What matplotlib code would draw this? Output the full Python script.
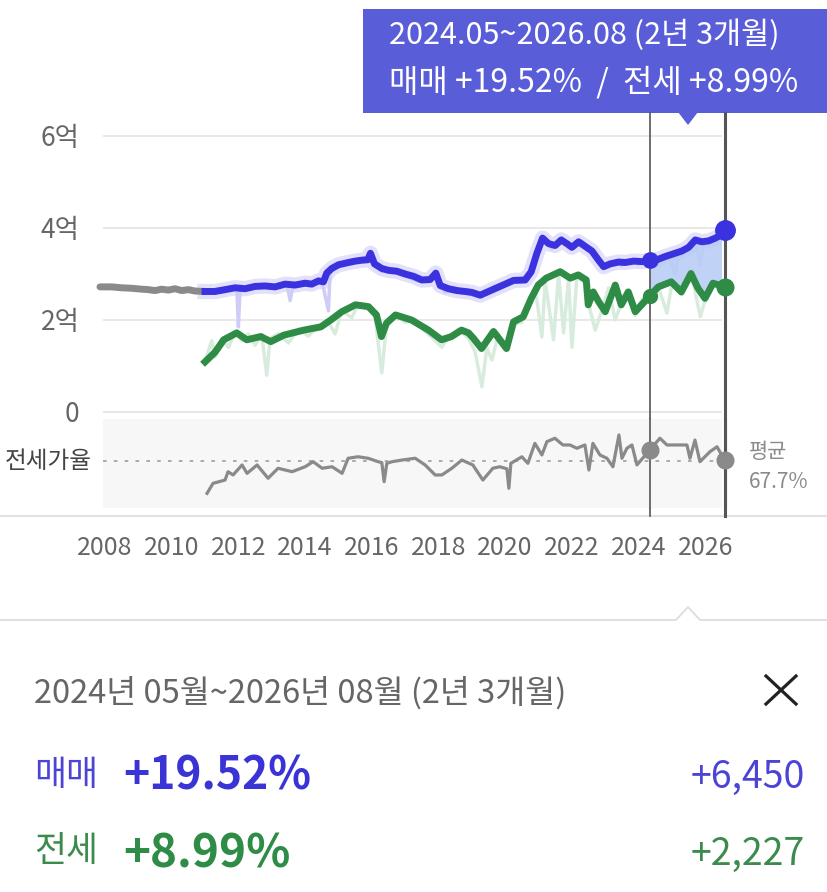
import numpy as np
import matplotlib.pyplot as plt
from matplotlib.lines import Line2D
from matplotlib.patches import Rectangle, Polygon

plt.rcParams['font.family'] = ['Noto Sans CJK KR', 'DejaVu Sans']

# -- data (prices in 억 원, dates as decimal years) --
pre_x = [2007.85, 2008.2, 2008.5, 2008.8, 2009.1, 2009.3, 2009.5, 2009.7, 2009.9,
         2010.1, 2010.3, 2010.5, 2010.7, 2011.0]
pre_y = [2.72, 2.72, 2.70, 2.69, 2.67, 2.66, 2.64, 2.67, 2.65, 2.68, 2.64, 2.66, 2.63, 2.62]

sale_x = [2011.0, 2011.3, 2011.6, 2011.9, 2012.2, 2012.5, 2012.8, 2013.1, 2013.4, 2013.7,
          2014.0, 2014.2, 2014.4, 2014.55, 2014.65, 2014.8, 2015.0, 2015.3, 2015.5, 2015.7,
          2015.88, 2015.96, 2016.08, 2016.3, 2016.5, 2016.75, 2017.0, 2017.25, 2017.5, 2017.75,
          2017.92, 2018.05, 2018.3, 2018.55, 2018.8, 2019.0, 2019.25, 2019.5, 2019.75, 2020.0,
          2020.25, 2020.6, 2020.78, 2020.95, 2021.12, 2021.3, 2021.5, 2021.68, 2021.85, 2022.0,
          2022.2, 2022.4, 2022.6, 2022.8, 2022.95, 2023.15, 2023.4, 2023.6, 2023.85, 2024.1,
          2024.33, 2024.55, 2024.8, 2025.05, 2025.3, 2025.5, 2025.7, 2025.9, 2026.1, 2026.3,
          2026.45, 2026.58]
sale_y = [2.62, 2.62, 2.66, 2.70, 2.68, 2.73, 2.74, 2.72, 2.78, 2.76,
          2.80, 2.78, 2.85, 2.83, 3.02, 3.12, 3.20, 3.25, 3.28, 3.30,
          3.31, 3.45, 3.22, 3.12, 3.08, 3.06, 3.00, 2.95, 2.87, 2.88,
          3.02, 2.75, 2.68, 2.64, 2.62, 2.60, 2.54, 2.62, 2.70, 2.78,
          2.86, 2.87, 3.05, 3.45, 3.78, 3.66, 3.62, 3.74, 3.66, 3.58,
          3.70, 3.60, 3.50, 3.30, 3.16, 3.22, 3.26, 3.25, 3.28, 3.27,
          3.30, 3.31, 3.38, 3.44, 3.50, 3.58, 3.74, 3.70, 3.72, 3.78,
          3.84, 3.95]

sale_raw_x = [2011.0, 2011.2, 2011.35, 2011.55, 2011.75, 2011.95, 2012.0, 2012.05, 2012.3, 2012.6,
              2012.9, 2013.2, 2013.45, 2013.55, 2013.65, 2013.9, 2014.2, 2014.5, 2014.7, 2014.75,
              2015.0, 2015.4, 2015.7, 2016.0, 2016.3, 2016.6, 2017.0, 2017.4, 2017.8, 2018.0,
              2018.2, 2018.5, 2018.9, 2019.3, 2019.7, 2020.1, 2020.5, 2020.8, 2021.1, 2021.4,
              2021.7, 2022.0, 2022.3, 2022.6, 2022.8, 2023.0, 2023.3, 2023.5, 2023.7, 2024.0,
              2024.33, 2024.6, 2024.9, 2025.1, 2025.2, 2025.5, 2025.7, 2025.85, 2025.95, 2026.2,
              2026.58]
sale_raw_y = [2.60, 2.58, 2.68, 2.62, 2.70, 2.72, 1.85, 2.66, 2.70, 2.76,
              2.70, 2.74, 2.80, 2.42, 2.78, 2.82, 2.76, 2.86, 2.20, 3.05,
              3.24, 3.22, 3.34, 3.38, 3.05, 3.10, 2.96, 2.84, 2.92, 2.95,
              2.60, 2.70, 2.56, 2.50, 2.74, 2.82, 2.90, 3.10, 3.82, 3.55,
              3.78, 3.55, 3.72, 3.45, 3.30, 3.12, 3.28, 3.18, 3.30, 3.22,
              3.30, 3.28, 3.40, 3.00, 3.45, 3.55, 3.72, 3.20, 3.68, 3.76,
              3.95]

jeonse_x = [2011.0, 2011.3, 2011.56, 2011.95, 2012.25, 2012.67, 2012.97, 2013.36, 2013.96, 2014.47,
            2014.77, 2015.1, 2015.51, 2015.9, 2016.14, 2016.29, 2016.44, 2016.71, 2017.19, 2017.7,
            2018.09, 2018.39, 2018.69, 2018.9, 2019.05, 2019.29, 2019.65, 2020.04, 2020.25, 2020.54,
            2020.78, 2020.99, 2021.23, 2021.65, 2021.95, 2022.19, 2022.43, 2022.49, 2022.64, 2022.8,
            2023.0, 2023.3, 2023.48, 2023.69, 2023.9, 2024.33, 2024.59, 2024.98, 2025.28, 2025.57,
            2025.78, 2025.99, 2026.23, 2026.58]
jeonse_y = [1.09, 1.30, 1.57, 1.72, 1.57, 1.64, 1.53, 1.67, 1.78, 1.85,
            2.00, 2.18, 2.33, 2.29, 2.11, 1.64, 1.93, 2.11, 2.00, 1.78,
            1.57, 1.64, 1.78, 1.72, 1.60, 1.38, 1.75, 1.38, 1.96, 2.07,
            2.47, 2.76, 2.91, 3.05, 2.91, 2.98, 2.87, 2.33, 2.61, 2.40,
            2.18, 2.76, 2.33, 2.61, 2.18, 2.52, 2.72, 2.83, 2.61, 3.01,
            2.69, 2.47, 2.80, 2.72]

jeonse_raw_x = [2011.0, 2011.2, 2011.3, 2011.5, 2011.7, 2011.9, 2012.1, 2012.3, 2012.5, 2012.7,
                2012.85, 2012.95, 2013.2, 2013.5, 2013.8, 2014.1, 2014.4, 2014.7, 2014.9, 2015.1,
                2015.4, 2015.6, 2015.9, 2016.1, 2016.3, 2016.45, 2016.7, 2017.0, 2017.3, 2017.6,
                2017.9, 2018.1, 2018.3, 2018.6, 2018.9, 2019.1, 2019.3, 2019.45, 2019.6, 2019.8,
                2020.0, 2020.2, 2020.5, 2020.7, 2020.9, 2021.1, 2021.2, 2021.45, 2021.6, 2021.75,
                2021.9, 2022.0, 2022.15, 2022.4, 2022.55, 2022.7, 2022.9, 2023.1, 2023.3, 2023.5,
                2023.7, 2023.9, 2024.1, 2024.33, 2024.6, 2024.85, 2025.0, 2025.3, 2025.6, 2025.85,
                2026.0, 2026.3, 2026.58]
jeonse_raw_y = [1.10, 1.55, 1.20, 1.60, 1.40, 1.75, 1.55, 1.70, 1.45, 1.68,
                0.80, 1.60, 1.70, 1.50, 1.80, 1.65, 1.88, 1.95, 1.70, 2.20,
                2.05, 2.35, 2.30, 2.05, 0.85, 1.95, 2.12, 1.95, 2.02, 1.75,
                1.55, 1.41, 1.65, 1.80, 1.60, 1.30, 0.55, 1.40, 1.13, 1.70,
                1.35, 1.90, 1.95, 2.40, 2.70, 1.63, 2.85, 1.57, 3.00, 1.72,
                2.90, 1.41, 2.95, 2.80, 2.20, 1.78, 2.20, 2.70, 2.00, 2.40,
                2.50, 2.10, 2.45, 2.52, 2.70, 2.15, 2.80, 2.55, 2.95, 2.07,
                2.45, 2.78, 2.72]

# 전세가율 (%)
rate_x = [2011.06, 2011.24, 2011.6, 2011.69, 2011.84, 2012.11, 2012.26, 2012.56, 2012.89, 2013.19,
          2013.61, 2014.0, 2014.24, 2014.51, 2014.81, 2015.11, 2015.29, 2015.59, 2015.89, 2016.19,
          2016.3, 2016.37, 2016.45, 2016.61, 2016.91, 2017.3, 2017.6, 2017.9, 2018.1, 2018.4,
          2018.7, 2019.03, 2019.33, 2019.63, 2019.84, 2020.05, 2020.11, 2020.17, 2020.5, 2020.68,
          2020.89, 2021.1, 2021.25, 2021.49, 2021.73, 2021.94, 2022.15, 2022.39, 2022.51, 2022.63,
          2022.84, 2023.05, 2023.23, 2023.41, 2023.5, 2023.65, 2023.8, 2023.95, 2024.33, 2024.64,
          2024.85, 2025.45, 2025.54, 2025.69, 2025.84, 2026.14, 2026.35, 2026.58]
rate_y = [44.1, 51.4, 53.8, 59.9, 57.5, 64.8, 58.7, 64.8, 55.1, 62.4,
          59.9, 63.5, 67.2, 62.4, 63.5, 58.7, 69.7, 70.8, 69.7, 67.2,
          66.5, 52.6, 66.0, 67.2, 68.4, 69.7, 64.8, 57.5, 57.5, 62.4,
          68.4, 64.8, 53.8, 62.4, 63.5, 62.0, 47.8, 66.0, 70.8, 66.0,
          80.6, 72.1, 81.8, 84.3, 79.4, 79.4, 77.0, 79.4, 61.1, 80.6,
          72.1, 69.7, 63.5, 86.7, 69.7, 77.0, 79.4, 64.8, 75.7, 84.3,
          79.4, 79.4, 69.7, 83.0, 67.2, 74.5, 78.1, 68.4]
rate_avg = 67.7

year_ticks = list(range(2008, 2027, 2))
price_ticks = [0, 2, 4, 6]
price_tick_labels = ['0', '2억', '4억', '6억']

start_year, end_year = 2024.33, 2026.58
tip_line1 = '2024.05~2026.08 (2년 3개월)'
tip_line2 = '매매 +19.52%  /  전세 +8.99%'
period_text = '2024년 05월~2026년 08월 (2년 3개월)'
sale_pct, sale_diff = '+19.52%', '+6,450'
jeonse_pct, jeonse_diff = '+8.99%', '+2,227'

BLUE = '#3b32df'
GREEN = '#2f8c46'
GRAY = '#8a8a8a'
TIP = '#5a5dd8'

# -- figure in pixel layout --
W, H = 827, 892
fig = plt.figure(figsize=(W / 100, H / 100), dpi=100)


def box(l, t, r, b):
    return [l / W, 1 - b / H, (r - l) / W, (b - t) / H]


def fp(x, y):
    return x / W, 1 - y / H


def year_at(px):
    return 2008 + (px - 105) / 33.35


ax = fig.add_axes(box(103, 113, 722, 516))
ax_r = fig.add_axes(box(103, 419, 722, 508))
ax.set_zorder(2)
ax_r.set_zorder(3)
ax.patch.set_alpha(0)

for a in (ax, ax_r):
    a.set_xlim(year_at(103), year_at(722))
    for s in a.spines.values():
        s.set_visible(False)

ax.set_ylim((412 - 516) / 46, (412 - 113) / 46)
ax.set_yticks(price_ticks)
ax.set_yticklabels(price_tick_labels)
ax.set_xticks(year_ticks)
ax.set_xticklabels([str(y) for y in year_ticks])
ax.tick_params(axis='y', length=0, pad=17, labelsize=19, labelcolor='#666666')
ax.tick_params(axis='x', length=0, pad=14, labelsize=18, labelcolor='#666666')
ax.grid(axis='y', color='#e6e6e6', lw=1.3)
ax.set_axisbelow(True)

# light raw series and soft halo
ax.plot(sale_x, sale_y, color='#e2e0fb', lw=11, solid_joinstyle='round', zorder=1)
ax.plot(sale_raw_x, sale_raw_y, color='#d0ccf8', lw=2.5, zorder=2)
ax.plot(jeonse_raw_x, jeonse_raw_y, color='#d8ecdd', lw=2.5, zorder=2)

# selected period fill between 매매 and 전세
sx, sy = np.array(sale_x), np.array(sale_y)
jx, jy = np.array(jeonse_x), np.array(jeonse_y)
ms, mj = sx >= start_year, jx >= start_year
poly = np.vstack([np.column_stack([sx[ms], sy[ms]]),
                  np.column_stack([jx[mj][::-1], jy[mj][::-1]])])
ax.add_patch(Polygon(poly, closed=True, facecolor='#b9cdf6', edgecolor='none', alpha=0.9, zorder=3))

ax.plot(pre_x, pre_y, color=GRAY, lw=5, solid_capstyle='round', zorder=4, clip_on=False)
ax.plot(sale_x, sale_y, color=BLUE, lw=5, solid_joinstyle='round', zorder=5)
ax.plot(jeonse_x, jeonse_y, color=GREEN, lw=5, solid_joinstyle='round', zorder=5)

for xv, lw in ((start_year, 1.2), (end_year, 2.2)):
    ax.axvline(xv, color='#555555', lw=lw, zorder=6, clip_on=False)
    ax_r.axvline(xv, color='#555555', lw=lw, zorder=2, clip_on=False)

ax.plot([start_year], [sale_y[sale_x.index(start_year)]], 'o', color=BLUE, ms=11, zorder=7)
ax.plot([end_year], [sale_y[-1]], 'o', color=BLUE, ms=14, zorder=7, clip_on=False)
ax.plot([start_year], [jeonse_y[jeonse_x.index(start_year)]], 'o', color=GREEN, ms=10, zorder=7)
ax.plot([end_year], [jeonse_y[-1]], 'o', color=GREEN, ms=12, zorder=7, clip_on=False)

ax.annotate('매매', xy=(end_year, sale_y[-1]), xytext=(25, -2), textcoords='offset pixels',
            va='center', ha='left', color='#4b44d6', fontsize=17)
ax.annotate('전세', xy=(end_year, jeonse_y[-1]), xytext=(25, -3), textcoords='offset pixels',
            va='center', ha='left', color='#3b8b4c', fontsize=17)

# 전세가율 band
ax_r.set_facecolor('#f7f7f7')
ax_r.set_ylim(67.7 - 47 / 1.37, 67.7 + 42 / 1.37)
ax_r.set_xticks([])
ax_r.set_yticks([])
ax_r.axhline(rate_avg, color='#a5a5a5', lw=1.3, ls=(0, (2, 4)), zorder=1)
ax_r.plot(rate_x, rate_y, color=GRAY, lw=2.3, zorder=3)
ax_r.plot([start_year], [rate_y[rate_x.index(start_year)]], 'o', color=GRAY, ms=12, zorder=4)
ax_r.plot([end_year], [rate_y[-1]], 'o', color=GRAY, ms=12, zorder=4, clip_on=False)
ax_r.annotate('전세가율', xy=(0, rate_avg), xycoords=('axes fraction', 'data'), xytext=(-11, 0),
              textcoords='offset pixels', ha='right', va='center', color='#444444', fontsize=17)
ax_r.annotate('평균', xy=(end_year, rate_avg), xytext=(24, 9), textcoords='offset pixels',
              ha='left', va='center', color='#8a8a8a', fontsize=15, annotation_clip=False)
ax_r.annotate(f'{rate_avg}%', xy=(end_year, rate_avg), xytext=(24, -21), textcoords='offset pixels',
              ha='left', va='center', color='#8a8a8a', fontsize=15, annotation_clip=False)

# separators
fig.add_artist(Line2D([0, 1], [1 - 516 / H] * 2, color='#e2e2e2', lw=1.5))
sep = [fp(0, 620), fp(676, 620), fp(688, 607), fp(700, 620), fp(827, 620)]
fig.add_artist(Line2D([p[0] for p in sep], [p[1] for p in sep], color='#dcdcdc', lw=1.3))

# tooltip
fig.add_artist(Rectangle(fp(363, 113), (827 - 363) / W, (113 - 9) / H,
                         transform=fig.transFigure, facecolor=TIP, edgecolor='none'))
fig.add_artist(Polygon([fp(678, 112), fp(698, 112), fp(688, 125)], closed=True,
                       transform=fig.transFigure, facecolor=TIP, edgecolor='none'))
fig.text(*fp(389, 35), tip_line1, color='white', fontsize=22, va='center', ha='left')
fig.text(*fp(389, 82), tip_line2, color='white', fontsize=23, va='center', ha='left')

# bottom summary
fig.text(*fp(34, 693), period_text, color='#666666', fontsize=23.5, va='center', ha='left')
for (x0, y0, x1, y1) in ((766, 676, 796, 704), (766, 704, 796, 676)):
    a0, b0 = fp(x0, y0)
    a1, b1 = fp(x1, y1)
    fig.add_artist(Line2D([a0, a1], [b0, b1], color='#222222', lw=2.3))

fig.text(*fp(34, 775), '매매', color='#4b44d6', fontsize=25, va='center', ha='left')
fig.text(*fp(123, 777), sale_pct, color='#3a33d6', fontsize=32, fontweight='bold', va='center', ha='left')
fig.text(*fp(805, 777), sale_diff, color='#4b44d6', fontsize=27, va='center', ha='right')
fig.text(*fp(34, 852), '전세', color='#3b8b4c', fontsize=25, va='center', ha='left')
fig.text(*fp(123, 854), jeonse_pct, color='#2f8c46', fontsize=33, fontweight='bold', va='center', ha='left')
fig.text(*fp(805, 854), jeonse_diff, color='#3b8b4c', fontsize=27, va='center', ha='right')

fig.savefig('out.png', dpi=100)
